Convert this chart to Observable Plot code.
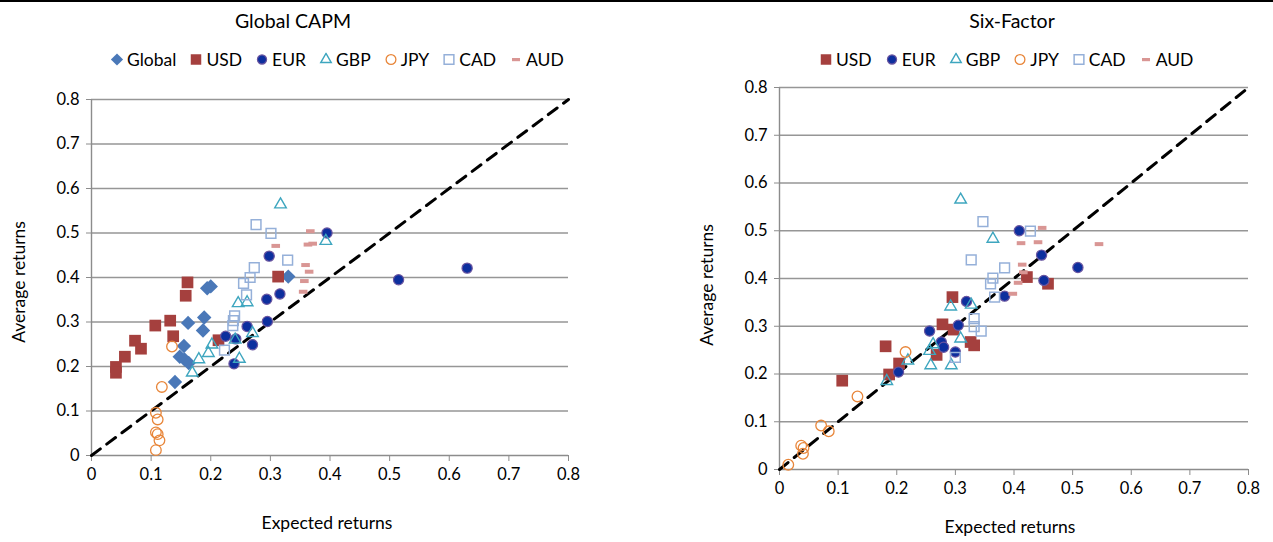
<!DOCTYPE html>
<html><head><meta charset="utf-8">
<script src="https://cdn.jsdelivr.net/npm/d3@7"></script>
<script src="https://cdn.jsdelivr.net/npm/@observablehq/plot@0.6"></script>
<style>
body{margin:0;background:#fff;font-family:Lato,"Noto Sans",sans-serif;color:#000}
#wrap{position:relative;width:1273px;height:542px;overflow:hidden;background:#fff}
.abs{position:absolute}
.title{font-size:19.5px;transform:translate(-50%,-50%);white-space:nowrap}
.xlab{font-size:17.5px;transform:translate(-50%,-50%);white-space:nowrap}
.ylab{font-size:17.5px;transform:translate(-50%,-50%) rotate(-90deg);white-space:nowrap}
.legend{display:flex;align-items:center;gap:13px;font-size:17.5px;transform:translateY(-50%);white-space:nowrap}
.legend span.item{display:flex;align-items:center;gap:3px}
.legend svg{display:block}
.topline{left:0;top:0;width:1273px;height:2px;background:#000}
</style></head>
<body><div id="wrap"></div>
<script>
// ---------- tick labels / reference line ----------
const xTicks = [0, 0.1, 0.2, 0.3, 0.4, 0.5, 0.6, 0.7, 0.8];
const yTicks = [0, 0.1, 0.2, 0.3, 0.4, 0.5, 0.6, 0.7, 0.8];
const diagonal = [0, 0.8];

// ---------- Global CAPM: [expected, average] ----------
const capmGlobal = [[0.140,0.165],[0.148,0.222],[0.156,0.216],[0.163,0.208],[0.155,0.246],[0.162,0.298],[0.189,0.310],[0.187,0.281],[0.194,0.376],[0.200,0.380],[0.330,0.402]];
const capmUSD = [[0.161,0.389],[0.158,0.359],[0.132,0.303],[0.107,0.292],[0.137,0.268],[0.073,0.258],[0.083,0.240],[0.056,0.222],[0.041,0.199],[0.041,0.186],[0.213,0.259],[0.313,0.402]];
const capmEUR = [[0.395,0.500],[0.298,0.448],[0.316,0.363],[0.294,0.351],[0.295,0.301],[0.261,0.290],[0.225,0.268],[0.242,0.262],[0.270,0.249],[0.239,0.206],[0.515,0.395],[0.630,0.421]];
const capmGBP = [[0.317,0.564],[0.393,0.482],[0.246,0.342],[0.261,0.344],[0.270,0.275],[0.241,0.260],[0.202,0.249],[0.196,0.230],[0.180,0.216],[0.169,0.186],[0.248,0.217]];
const capmJPY = [[0.135,0.245],[0.118,0.154],[0.108,0.096],[0.111,0.081],[0.108,0.052],[0.111,0.048],[0.114,0.034],[0.108,0.012]];
const capmCAD = [[0.276,0.519],[0.301,0.499],[0.329,0.439],[0.273,0.422],[0.266,0.400],[0.255,0.387],[0.260,0.361],[0.240,0.314],[0.238,0.303],[0.237,0.292],[0.223,0.237]];
const capmAUD = [[0.367,0.504],[0.363,0.474],[0.371,0.476],[0.309,0.471],[0.359,0.428],[0.365,0.413],[0.357,0.392],[0.355,0.368]];

// ---------- Six-Factor ----------
const sixUSD = [[0.295,0.361],[0.278,0.304],[0.297,0.293],[0.326,0.267],[0.332,0.260],[0.268,0.240],[0.181,0.258],[0.107,0.186],[0.187,0.199],[0.204,0.222],[0.422,0.403],[0.458,0.389]];
const sixEUR = [[0.409,0.500],[0.447,0.449],[0.451,0.396],[0.509,0.423],[0.384,0.363],[0.319,0.352],[0.305,0.302],[0.256,0.290],[0.276,0.267],[0.280,0.256],[0.300,0.246],[0.203,0.204]];
const sixGBP = [[0.309,0.565],[0.364,0.483],[0.292,0.341],[0.327,0.345],[0.309,0.274],[0.262,0.262],[0.256,0.248],[0.219,0.228],[0.183,0.185],[0.258,0.218],[0.293,0.218]];
const sixJPY = [[0.215,0.246],[0.133,0.153],[0.071,0.092],[0.084,0.080],[0.037,0.050],[0.041,0.045],[0.040,0.033],[0.015,0.010]];
const sixCAD = [[0.347,0.519],[0.428,0.499],[0.327,0.439],[0.384,0.422],[0.364,0.401],[0.360,0.389],[0.367,0.361],[0.332,0.316],[0.332,0.299],[0.344,0.290],[0.300,0.235]];
const sixAUD = [[0.448,0.506],[0.412,0.474],[0.441,0.476],[0.414,0.429],[0.416,0.413],[0.407,0.391],[0.398,0.368],[0.545,0.472]];

const seriesNames = ["Global","USD","EUR","GBP","JPY","CAD","AUD"];

// ---------- styles ----------
const dash = {draw(ctx){ ctx.rect(-4.3,-2,8.6,4); }};
const styles = {
  Global:{symbol:"diamond2", r:6.5, fill:"#4a78b8", stroke:"none", strokeWidth:0},
  USD:{symbol:"square", r:6.6, fill:"#a5403e", stroke:"none", strokeWidth:0},
  EUR:{symbol:"circle", r:5.1, fill:"#0d2f9e", stroke:"#6a55a0", strokeWidth:1.2},
  GBP:{symbol:"triangle", r:4.3, fill:"none", stroke:"#3ea6bf", strokeWidth:1.4},
  JPY:{symbol:"circle", r:5.3, fill:"none", stroke:"#e8863a", strokeWidth:1.3},
  CAD:{symbol:"square", r:5.5, fill:"none", stroke:"#95b0d9", strokeWidth:1.5},
  AUD:{symbol:dash, r:3, fill:"#d99694", stroke:"none", strokeWidth:0}
};
const legendSymbol = {
  Global:{type:d3.symbolDiamond2, size:95},
  USD:{type:d3.symbolSquare, size:110},
  EUR:{type:d3.symbolCircle, size:66},
  GBP:{type:d3.symbolTriangle, size:48},
  JPY:{type:d3.symbolCircle, size:75},
  CAD:{type:d3.symbolSquare, size:95},
  AUD:{type:null}
};

const FONT = "Lato, 'Noto Sans', sans-serif";

function chart(series, w, m){
  const marks = [
    Plot.gridY(yTicks.filter(d => d > 0), {stroke:"#969696", strokeOpacity:1, strokeWidth:1.3}),
    Plot.ruleX([0], {stroke:"#8c8c8c", strokeWidth:1.4}),
    Plot.ruleY([0], {stroke:"#8c8c8c", strokeWidth:1.4}),
    Plot.axisY(yTicks, {tickSize:5, tickPadding:7, tickFormat:d => String(d), stroke:"#8c8c8c", fill:"#000", label:null}),
    Plot.axisX(xTicks, {tickSize:6, tickPadding:7, tickFormat:d => String(d), stroke:"#8c8c8c", fill:"#000", label:null}),
    Plot.line(diagonal, {x:d => d, y:d => d, stroke:"#000", strokeWidth:3, strokeDasharray:"11,8"})
  ];
  for (const [name, data] of series){
    const s = styles[name];
    marks.push(Plot.dot(data, {x:d => d[0], y:d => d[1], symbol:s.symbol, r:s.r, fill:s.fill, stroke:s.stroke, strokeWidth:s.strokeWidth}));
  }
  return Plot.plot({
    width:w, height:542,
    marginLeft:m[0], marginRight:m[1], marginTop:m[2], marginBottom:m[3],
    x:{domain:[0,0.8], label:null},
    y:{domain:[0,0.8], label:null},
    style:{fontFamily:FONT, fontSize:"16.5px", color:"#000", background:"transparent", overflow:"visible"},
    marks
  });
}

const wrap = document.getElementById("wrap");
function place(el, left, top){ el.classList.add("abs"); el.style.left = left+"px"; el.style.top = top+"px"; wrap.appendChild(el); return el; }
function textEl(cls, txt){ const d = document.createElement("div"); d.className = cls; d.textContent = txt; return d; }

function legend(names){
  const box = document.createElement("div");
  box.className = "legend";
  for (const n of names){
    const it = document.createElement("span"); it.className = "item";
    const s = styles[n], ls = legendSymbol[n];
    const svg = d3.create("svg").attr("width",14).attr("height",14);
    if (ls.type){
      svg.append("path").attr("transform","translate(7,7)").attr("d", d3.symbol(ls.type, ls.size)())
        .attr("fill", s.fill).attr("stroke", s.stroke === "none" ? null : s.stroke).attr("stroke-width", s.strokeWidth);
    } else {
      svg.append("rect").attr("x",3).attr("y",5.5).attr("width",8).attr("height",3.2).attr("fill", s.fill);
    }
    it.appendChild(svg.node());
    const t = document.createElement("span"); t.textContent = n; it.appendChild(t);
    box.appendChild(it);
  }
  return box;
}

// left chart
const left = chart([["Global",capmGlobal],["USD",capmUSD],["EUR",capmEUR],["GBP",capmGBP],["JPY",capmJPY],["CAD",capmCAD],["AUD",capmAUD]], 640, [91,72,99,87]);
place(left, 0, 0);
// right chart
const right = chart([["USD",sixUSD],["EUR",sixEUR],["GBP",sixGBP],["JPY",sixJPY],["CAD",sixCAD],["AUD",sixAUD]], 633, [139,25,87,73]);
place(right, 640, 0);

place(textEl("title","Global CAPM"), 293, 20);
place(textEl("title","Six-Factor"), 1012, 20);
place(legend(seriesNames), 110, 59);
place(legend(seriesNames.slice(1)), 819, 59);
place(textEl("ylab","Average returns"), 18, 282);
place(textEl("ylab","Average returns"), 706, 285);
place(textEl("xlab","Expected returns"), 327, 522);
place(textEl("xlab","Expected returns"), 1010, 526);
const line = document.createElement("div"); line.className = "topline"; place(line, 0, 0);
</script>
</body></html>
